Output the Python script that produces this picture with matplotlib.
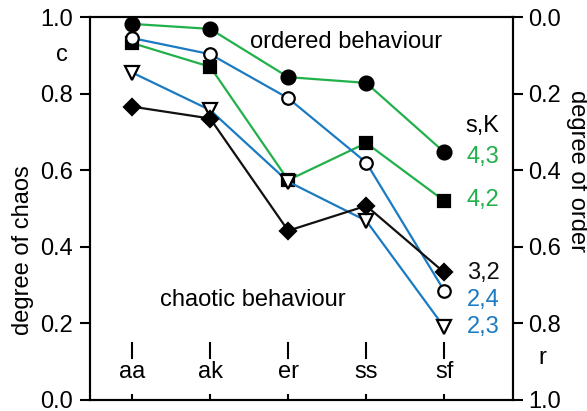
import matplotlib
matplotlib.use("Agg")
import matplotlib.pyplot as plt

plt.rcParams["font.family"] = ["Liberation Sans", "DejaVu Sans"]
plt.rcParams["font.size"] = 17

categories = ["aa", "ak", "er", "ss", "sf"]

# degree of chaos c for each (s,K)
c_43 = [0.982, 0.969, 0.843, 0.828, 0.647]
c_42 = [0.932, 0.870, 0.574, 0.671, 0.520]
c_24 = [0.945, 0.903, 0.788, 0.620, 0.285]
c_23 = [0.855, 0.757, 0.570, 0.468, 0.190]
c_32 = [0.766, 0.735, 0.442, 0.507, 0.333]

green = "#22b04b"
blue = "#1b7bc2"
black = "#111111"

series = [
    ("4,3", c_43, green, "o", True, 10, 0.634),
    ("4,2", c_42, green, "s", True, 9, 0.522),
    ("2,4", c_24, blue, "o", False, 9, 0.261),
    ("2,3", c_23, blue, "v", False, 9.5, 0.191),
    ("3,2", c_32, black, "D", True, 8.5, 0.332),
]

fig = plt.figure(figsize=(5.87, 4.11), dpi=100)
ax = fig.add_axes([0.1533, 0.0268, 0.7205, 0.9318])
x = list(range(len(categories)))

for name, vals, col, mk, filled, ms, ly in series:
    ax.plot(x, vals, color=col, lw=1.6, marker=mk, markersize=ms,
            markerfacecolor="black" if filled else "white",
            markeredgecolor="black", markeredgewidth=1.6, zorder=3)
    ax.text(x[-1] + 0.29, ly, name, color=col, ha="left", va="center")

ax.text(x[-1] + 0.27, 0.715, "s,K", ha="left", va="center")

ax.set_xlim(-0.54, 4.88)
ax.set_ylim(0, 1)
ax.set_yticks([0, 0.2, 0.4, 0.6, 0.8, 1.0])
ax.set_yticklabels(["0.0", "0.2", "0.4", "0.6", "0.8", "1.0"])
ax.tick_params(axis="y", direction="out", length=7, width=1.5, pad=5)
ax.set_xticks(x)
ax.set_xticklabels([])
ax.tick_params(axis="x", direction="in", length=4, width=1.5)
for sp in ax.spines.values():
    sp.set_linewidth(1.5)

# category names inside the plot with small marks above
for xi, cat in zip(x, categories):
    ax.text(xi, 0.072, cat, ha="center", va="center")
    ax.plot([xi, xi], [0.11, 0.15], color="black", lw=1.5)

ax2 = ax.twinx()
ax2.set_ylim(1, 0)
ax2.set_yticks([0, 0.2, 0.4, 0.6, 0.8, 1.0])
ax2.set_yticklabels(["0.0", "0.2", "0.4", "0.6", "0.8", "1.0"])
ax2.tick_params(axis="y", direction="out", length=7, width=1.5, pad=4)
for sp in ax2.spines.values():
    sp.set_linewidth(1.5)

ax.text(250, 411 - 42, "ordered behaviour", transform=None, ha="left", va="center")
ax.text(160, 411 - 300, "chaotic behaviour", transform=None, ha="left", va="center")
fig.text(62 / 587, 1 - 55 / 411, "c", ha="center", va="center")
fig.text(542 / 587, 1 - 358 / 411, "r", ha="center", va="center")
fig.text(23 / 587, 1 - 250 / 411, "degree of chaos", rotation=90, ha="center", va="center")
fig.text(577 / 587, 1 - 171 / 411, "degree of order", rotation=270, ha="center", va="center")

fig.savefig("out.png", dpi=100)
